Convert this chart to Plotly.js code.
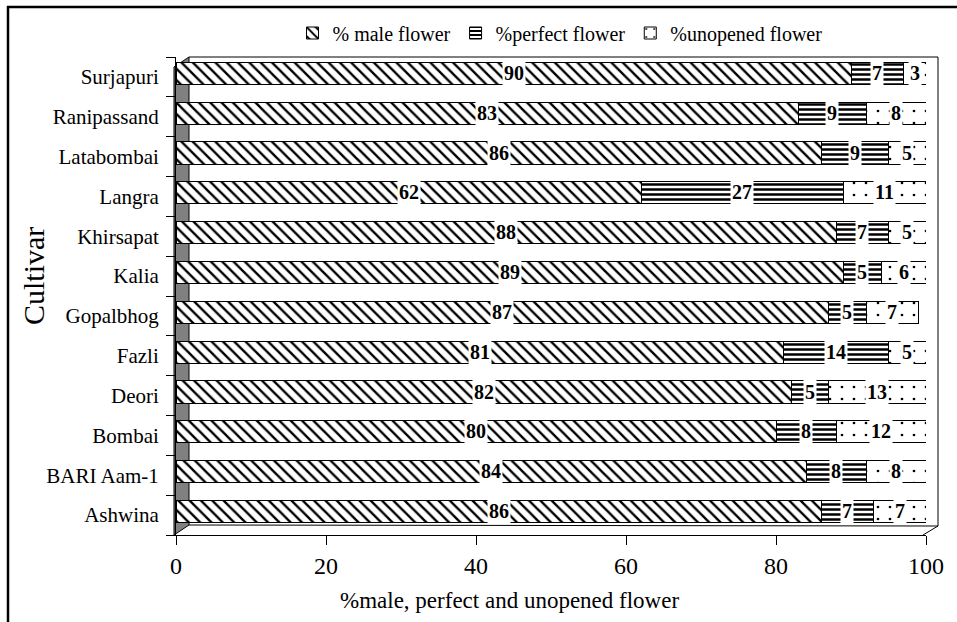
<!DOCTYPE html>
<html>
<head>
<meta charset="utf-8">
<script src="https://cdn.plot.ly/plotly-3.0.1.min.js"></script>
<style>html,body{margin:0;padding:0;background:#fff;}#chart{width:957px;height:622px;}</style>
</head>
<body>
<div id="chart"></div>
<script>
const cultivars = ["Ashwina","BARI Aam-1","Bombai","Deori","Fazli","Gopalbhog","Kalia","Khirsapat","Langra","Latabombai","Ranipassand","Surjapuri"];
const maleFlower = [86,84,80,82,81,87,89,88,62,86,83,90];
const perfectFlower = [7,8,8,5,14,5,5,7,27,9,9,7];
const unopenedFlower = [7,8,12,13,5,7,6,5,11,5,8,3];
const seriesNames = ["% male flower","%perfect flower","%unopened flower"];
const xTicks = [0,20,40,60,80,100];
const xTitle = "%male, perfect and unopened flower";
const yTitle = "Cultivar";

const serif = "Liberation Serif";
const lineStyle = {color:"black", width:1};
const barW = 0.56, barOff = -0.28 + 0.09;

const traces = [
  {type:"bar", orientation:"h", name:seriesNames[0], y:cultivars, x:maleFlower, width:barW, offset:barOff,
   marker:{color:"white", line:lineStyle, pattern:{shape:"\\", fgcolor:"black", bgcolor:"white", size:8, solidity:0.3}}},
  {type:"bar", orientation:"h", name:seriesNames[1], y:cultivars, x:perfectFlower, width:barW, offset:barOff,
   marker:{color:"white", line:lineStyle, pattern:{shape:"-", fgcolor:"black", bgcolor:"white", size:5, solidity:0.5}}},
  {type:"bar", orientation:"h", name:seriesNames[2], y:cultivars, x:unopenedFlower, width:barW, offset:barOff,
   marker:{color:"white", line:lineStyle, pattern:{shape:".", fgcolor:"black", bgcolor:"white", size:12, solidity:0.04}}}
];

// pixel helpers for decorative frame (plot area: x 176..926, y 57..535)
const L = 176, R = 926, T = 57, B = 535;
const px = v => (v - L) / (R - L);
const py = v => (B - v) / (B - T);

// value labels at the middle of each segment
const annotations = [];
const all = [maleFlower, perfectFlower, unopenedFlower];
cultivars.forEach((c, i) => {
  let start = 0;
  all.forEach(arr => {
    const v = arr[i];
    annotations.push({x:start + v/2, y:c, xref:"x", yref:"y", text:"<b>" + v + "</b>", showarrow:false,
      font:{family:serif, size:20, color:"black"}, bgcolor:"white", borderpad:1, yshift:4});
    start += v;
  });
});
annotations.push({xref:"paper", yref:"paper", x:px(509), y:py(600), xanchor:"center", yanchor:"middle",
  text:xTitle, showarrow:false, font:{family:serif, size:23, color:"black"}});
annotations.push({xref:"paper", yref:"paper", x:px(33), y:py(276), xanchor:"center", yanchor:"middle",
  text:yTitle, showarrow:false, textangle:-90, font:{family:serif, size:30, color:"black"}});

const shapes = [
  {type:"path", xref:"paper", yref:"paper", layer:"below",
   path:`M ${px(174)},${py(535)} L ${px(189)},${py(525)} L ${px(189)},${py(57)} L ${px(174)},${py(67)} Z`,
   fillcolor:"#808080", line:{color:"black", width:1}},
  {type:"path", xref:"paper", yref:"paper", layer:"below",
   path:`M ${px(189)},${py(57)} L ${px(938)},${py(57)} L ${px(938)},${py(526)} L ${px(923)},${py(535)}`,
   line:{color:"black", width:1}},
  {type:"line", xref:"paper", yref:"paper", layer:"below",
   x0:px(189), y0:py(525), x1:px(938), y1:py(526), line:{color:"black", width:1}},
  {type:"line", xref:"paper", yref:"paper", x0:px(7), y0:py(7), x1:px(960), y1:py(7), line:{color:"black", width:2.5}},
  {type:"line", xref:"paper", yref:"paper", x0:px(8), y0:py(6), x1:px(8), y1:py(630), line:{color:"black", width:2.5}}
];

const layout = {
  width:957, height:622,
  margin:{l:L, r:957-R, t:T, b:622-B, pad:0},
  paper_bgcolor:"white", plot_bgcolor:"rgba(0,0,0,0)",
  barmode:"stack",
  font:{family:serif, color:"black"},
  showlegend:true,
  legend:{orientation:"h", x:px(560), xanchor:"center", y:py(33), yanchor:"middle",
          font:{family:serif, size:20, color:"black"}, itemwidth:30, tracegroupgap:0, traceorder:"normal", bgcolor:"rgba(0,0,0,0)"},
  xaxis:{range:[0,100], tickvals:xTicks, ticktext:xTicks.map(String), ticks:"outside", ticklen:9, tickcolor:"black",
         showline:true, linecolor:"black", linewidth:1, showgrid:false, zeroline:false,
         tickfont:{family:serif, size:24, color:"black"}},
  yaxis:{type:"category", categoryorder:"array", categoryarray:cultivars, tickson:"boundaries",
         ticks:"outside", ticklen:9, tickcolor:"black", showline:true, linecolor:"black", linewidth:1,
         showgrid:false, tickfont:{family:serif, size:21, color:"black"}, ticklabelstandoff:12},
  annotations:annotations,
  shapes:shapes
};

Plotly.newPlot("chart", traces, layout, {displayModeBar:false, staticPlot:true});
</script>
</body>
</html>
